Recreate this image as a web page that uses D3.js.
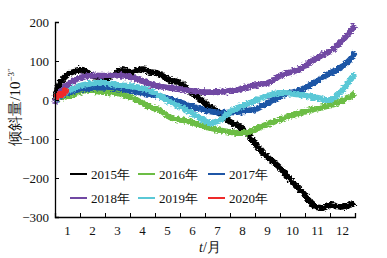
<!DOCTYPE html>
<html>
<head>
<meta charset="utf-8">
<script src="https://cdn.jsdelivr.net/npm/d3@7"></script>
<style>
  body { margin: 0; background: #fff; }
  svg { display: block; font-family: "Liberation Serif", "DejaVu Serif", serif; }
</style>
</head>
<body>
<svg class="chart" width="387" height="258"></svg>
<script>
const svg = d3.select(".chart");
const W = 387, H = 258;
const M = { left: 55, right: 32, top: 22, bottom: 41 };

// t = months since Jan 1, value in 10^-3 arcsec
const years = ["2015年", "2016年", "2017年", "2018年", "2019年", "2020年"];
const colors = ["#000000", "#6cbd45", "#1f56a6", "#7148a3", "#5ac8d6", "#ee2a2a"];
const monthLabels = ["1", "2", "3", "4", "5", "6", "7", "8", "9", "10", "11", "12"];
const yTicks = [200, 100, 0, -100, -200, -300];

const s2015 = [[0, 0], [0.2, 44], [0.6, 69], [1.12, 77], [1.4, 64], [1.8, 58], [2.2, 59], [2.68, 77],
  [3.0, 72], [3.52, 79], [3.8, 72], [4.08, 69], [4.6, 51], [5.0, 44], [5.4, 21], [5.8, 3],
  [6.12, -15], [6.6, -33], [7.0, -56], [7.4, -69], [7.8, -95], [8.32, -136], [9.0, -174],
  [9.52, -213], [9.92, -238], [10.32, -269], [10.72, -277], [11.0, -269], [11.4, -274],
  [11.8, -269], [12, -264]];
const s2016 = [[0, 0], [0.2, 5], [0.7, 13], [1.3, 26], [1.8, 21], [2.5, 18], [3.1, 5], [3.8, -18],
  [4.2, -26], [4.6, -44], [5.4, -56], [6.2, -72], [7.0, -82], [7.4, -85], [7.8, -82], [8.2, -70],
  [8.6, -60], [9.0, -50], [9.8, -33], [10.6, -20], [11.2, -10], [11.8, 8], [12, 18]];
const s2017 = [[0, 0], [0.6, 21], [1.4, 31], [2.4, 30], [3.2, 22], [4.3, 8], [5.1, -8], [6.1, -28],
  [6.7, -33], [7.4, -30], [8.0, -24], [8.6, -5], [9.2, 15], [9.8, 25], [10.4, 46], [11.0, 69],
  [11.4, 82], [11.8, 103], [12, 123]];
const s2018 = [[0, -10], [0.2, 20], [0.8, 52], [1.4, 62], [2.0, 62], [2.7, 62], [3.4, 52], [3.8, 40],
  [4.6, 31], [5.4, 24], [6.0, 20], [6.8, 22], [7.4, 28], [7.8, 35], [8.6, 46], [9.0, 62],
  [9.8, 80], [10.2, 97], [10.6, 112], [11.0, 125], [11.4, 146], [11.8, 175], [12, 193]];
const s2019 = [[0, 0], [0.6, 26], [1.1, 38], [1.8, 44], [2.6, 38], [3.4, 31], [4.0, 18], [4.6, -5],
  [5.1, -20], [5.8, -46], [6.2, -59], [6.6, -51], [7.0, -31], [7.4, -18], [7.8, -8], [8.6, 13],
  [9.1, 18], [9.8, 13], [10.5, 5], [11.0, 0], [11.4, 18], [11.8, 51], [12, 68]];
const s2020 = [[0, 5], [0.1, 10], [0.25, 15], [0.4, 22], [0.5, 30]];
const series = [s2015, s2016, s2017, s2018, s2019, s2020];

const x = d3.scaleLinear().domain([0, 12]).range([M.left, W - M.right]);
const y = d3.scaleLinear().domain([-300, 200]).range([H - M.bottom, M.top]);

// rough texture for the noisy data bands
const defs = svg.append("defs");
const filt = defs.append("filter").attr("id", "rough")
  .attr("x", "-5%").attr("y", "-10%").attr("width", "110%").attr("height", "120%");
filt.append("feTurbulence").attr("type", "fractalNoise")
  .attr("baseFrequency", "0.35 0.6").attr("numOctaves", 2).attr("seed", 3).attr("result", "n");
filt.append("feDisplacementMap").attr("in", "SourceGraphic").attr("in2", "n")
  .attr("scale", 5).attr("xChannelSelector", "R").attr("yChannelSelector", "G");

const line = d3.line()
  .x(d => x(d[0]))
  .y(d => y(d[1]))
  .curve(d3.curveCatmullRom);

svg.append("g")
  .selectAll("path")
  .data(series)
  .enter()
  .append("path")
  .attr("d", line)
  .attr("fill", "none")
  .attr("stroke", (d, i) => colors[i])
  .attr("stroke-width", (d, i) => i == 5 ? 7 : 6)
  .attr("stroke-linejoin", "round")
  .attr("filter", "url(#rough)");

// y axis
const yAxis = svg.append("g")
  .attr("transform", `translate(${M.left},0)`)
  .call(d3.axisLeft(y)
    .tickValues(yTicks)
    .tickSize(-4)
    .tickPadding(6)
    .tickFormat(d => d < 0 ? "\u2212" + Math.abs(d) : d));
yAxis.select(".domain").attr("stroke", "#000").attr("stroke-width", 1.3);
yAxis.selectAll("text").style("font-size", "13px").style("font-family", "Liberation Serif").attr("fill", "#111");

// x axis: ticks on month boundaries, labels in between
const xAxis = svg.append("g")
  .attr("transform", `translate(0,${H - M.bottom})`)
  .call(d3.axisBottom(x)
    .tickValues(d3.range(1, 13))
    .tickSize(-4)
    .tickFormat(""));
xAxis.select(".domain").attr("stroke", "#000").attr("stroke-width", 1.3);

svg.append("g")
  .selectAll("text")
  .data(monthLabels)
  .enter()
  .append("text")
  .attr("x", (d, i) => x(i + 0.5))
  .attr("y", H - M.bottom + 18)
  .attr("text-anchor", "middle")
  .style("font-size", "13px")
  .attr("fill", "#111")
  .text(d => d);

// axis titles
const xt = svg.append("text")
  .attr("x", x(6.2))
  .attr("y", 252)
  .attr("text-anchor", "middle")
  .style("font-size", "14px")
  .attr("fill", "#111");
xt.append("tspan").style("font-style", "italic").text("t");
xt.append("tspan").text("/月");

const yt = svg.append("text")
  .attr("transform", `translate(20,${y(-18)}) rotate(-90)`)
  .attr("text-anchor", "middle")
  .style("font-size", "15px")
  .attr("fill", "#111");
yt.append("tspan").text("倾斜量/10");
yt.append("tspan").attr("dy", -6).style("font-size", "9px").text("\u22123\u2033");

// legend, 2 rows x 3 columns
const legX = [70, 138, 208];
const legY = [174, 198];
const leg = svg.append("g")
  .selectAll("g")
  .data(years)
  .enter()
  .append("g")
  .attr("transform", (d, i) => `translate(${legX[i % 3]},${legY[Math.floor(i / 3)]})`);
leg.append("line")
  .attr("x1", 0).attr("x2", 17)
  .attr("stroke", (d, i) => colors[i])
  .attr("stroke-width", 2);
leg.append("text")
  .attr("x", 21)
  .attr("dy", "0.35em")
  .style("font-size", "13px")
  .attr("fill", "#111")
  .text(d => d);
</script>
</body>
</html>
